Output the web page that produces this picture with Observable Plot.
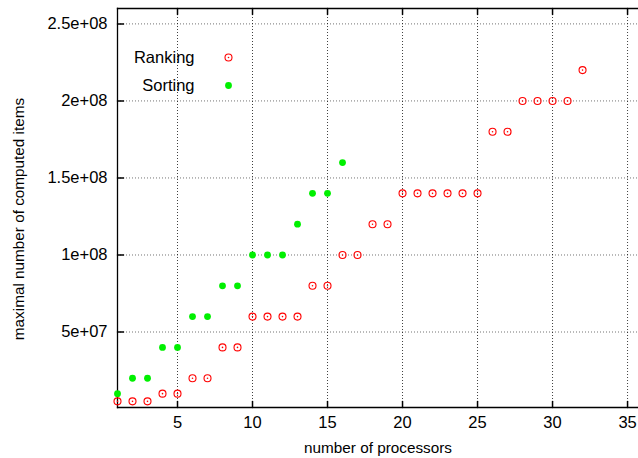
<!DOCTYPE html>
<html>
<head>
<meta charset="utf-8">
<script src="https://cdn.jsdelivr.net/npm/d3@7"></script>
<script src="https://cdn.jsdelivr.net/npm/@observablehq/plot@0.6"></script>
<style>
  html, body { margin: 0; padding: 0; background: #fff; }
  svg { display: block; }
</style>
</head>
<body>
<div id="chart"></div>
<script>
// ---- data ----
const rankingX = [1,2,3,4,5,6,7,8,9,10,11,12,13,14,15,16,17,18,19,20,21,22,23,24,25,26,27,28,29,30,31,32];
const rankingY = [5e6,5e6,5e6,1e7,1e7,2e7,2e7,4e7,4e7,6e7,6e7,6e7,6e7,8e7,8e7,1e8,1e8,1.2e8,1.2e8,
                  1.4e8,1.4e8,1.4e8,1.4e8,1.4e8,1.4e8,1.8e8,1.8e8,2e8,2e8,2e8,2e8,2.2e8];
const sortingX = [1,2,3,4,5,6,7,8,9,10,11,12,13,14,15,16];
const sortingY = [1e7,2e7,2e7,4e7,4e7,6e7,6e7,8e7,8e7,1e8,1e8,1e8,1.2e8,1.4e8,1.4e8,1.6e8];
const xTicks = [5,10,15,20,25,30,35];
const yTicks = [5e7,1e8,1.5e8,2e8,2.5e8];
const yTickLabels = ["5e+07","1e+08","1.5e+08","2e+08","2.5e+08"];
const seriesNames = ["Ranking","Sorting"];
const xLabel = "number of processors";
const yLabel = "maximal number of computed items";

const ranking = rankingX.map((x, i) => ({x, y: rankingY[i]}));
const sorting = sortingX.map((x, i) => ({x, y: sortingY[i]}));

const RED = "#ff0000", GREEN = "#00f000";
const FONT = "'Liberation Sans', Arial, Helvetica, sans-serif";
const tickShape = {draw(ctx, l) { ctx.moveTo(0, 0); ctx.lineTo(0, -l); }};

const legendMarks = [];
seriesNames.forEach((name, i) => {
  const dy = 49 + i * 28;
  legendMarks.push(Plot.text([name], {frameAnchor: "top-left", text: d => d, dx: 77, dy, textAnchor: "end", lineAnchor: "middle", fontSize: 16.5, fill: "#000"}));
  if (i === 0) {
    legendMarks.push(Plot.dot([name], {frameAnchor: "top-left", dx: 111, dy, r: 3.5, stroke: RED, strokeWidth: 1.1, fill: "none"}));
    legendMarks.push(Plot.dot([name], {frameAnchor: "top-left", dx: 111, dy, r: 0.8, fill: RED}));
  } else {
    legendMarks.push(Plot.dot([name], {frameAnchor: "top-left", dx: 111, dy, r: 3.4, fill: GREEN}));
  }
});

const chart = Plot.plot({
  width: 638,
  height: 458,
  marginLeft: 117,
  marginRight: 0,
  marginTop: 8,
  marginBottom: 51,
  style: {fontFamily: FONT, background: "#fff", overflow: "visible"},
  x: {domain: [1, 35.73]},
  y: {domain: [1e6, 2.6e8]},
  marks: [
    Plot.gridX(xTicks, {stroke: "#000", strokeOpacity: 0.75, strokeDasharray: "1,2"}),
    Plot.gridY(yTicks, {stroke: "#000", strokeOpacity: 0.55, strokeDasharray: "1,2"}),
    Plot.axisX(xTicks, {tickSize: 0, tickPadding: 9, fontSize: 16.5, label: null, fill: "#000"}),
    Plot.axisY(yTicks, {tickSize: 0, tickPadding: 10, fontSize: 16.5, label: null, fill: "#000",
      tickFormat: (d) => yTickLabels[yTicks.indexOf(d)]}),
    // inward tick marks
    Plot.vector(yTicks, {y: d => d, frameAnchor: "left", rotate: 90, length: 6, anchor: "start", shape: tickShape, stroke: "#000"}),
    Plot.vector(xTicks, {x: d => d, frameAnchor: "bottom", rotate: 0, length: 6, anchor: "start", shape: tickShape, stroke: "#000"}),
    Plot.vector(xTicks, {x: d => d, frameAnchor: "top", rotate: 180, length: 6, anchor: "start", shape: tickShape, stroke: "#000"}),
    // border: left, bottom, top
    Plot.frame({anchor: "left", stroke: "#000", strokeWidth: 1.3}),
    Plot.frame({anchor: "bottom", stroke: "#000", strokeWidth: 1.3}),
    Plot.frame({anchor: "top", stroke: "#000", strokeWidth: 1.3}),
    // axis labels
    Plot.text([xLabel], {frameAnchor: "bottom", text: d => d, dy: 41, lineAnchor: "middle", textAnchor: "middle", fontSize: 15.3, fill: "#000"}),
    Plot.text([yLabel], {frameAnchor: "left", text: d => d, dx: -98, dy: 11, rotate: -90, textAnchor: "middle", lineAnchor: "middle", fontSize: 15.3, fill: "#000"}),
    // data
    Plot.dot(ranking, {x: "x", y: "y", r: 3.5, stroke: RED, strokeWidth: 1.1, fill: "none"}),
    Plot.dot(ranking, {x: "x", y: "y", r: 0.8, fill: RED}),
    Plot.dot(sorting, {x: "x", y: "y", r: 3.4, fill: GREEN}),
    ...legendMarks
  ]
});
document.getElementById("chart").appendChild(chart);
</script>
</body>
</html>
